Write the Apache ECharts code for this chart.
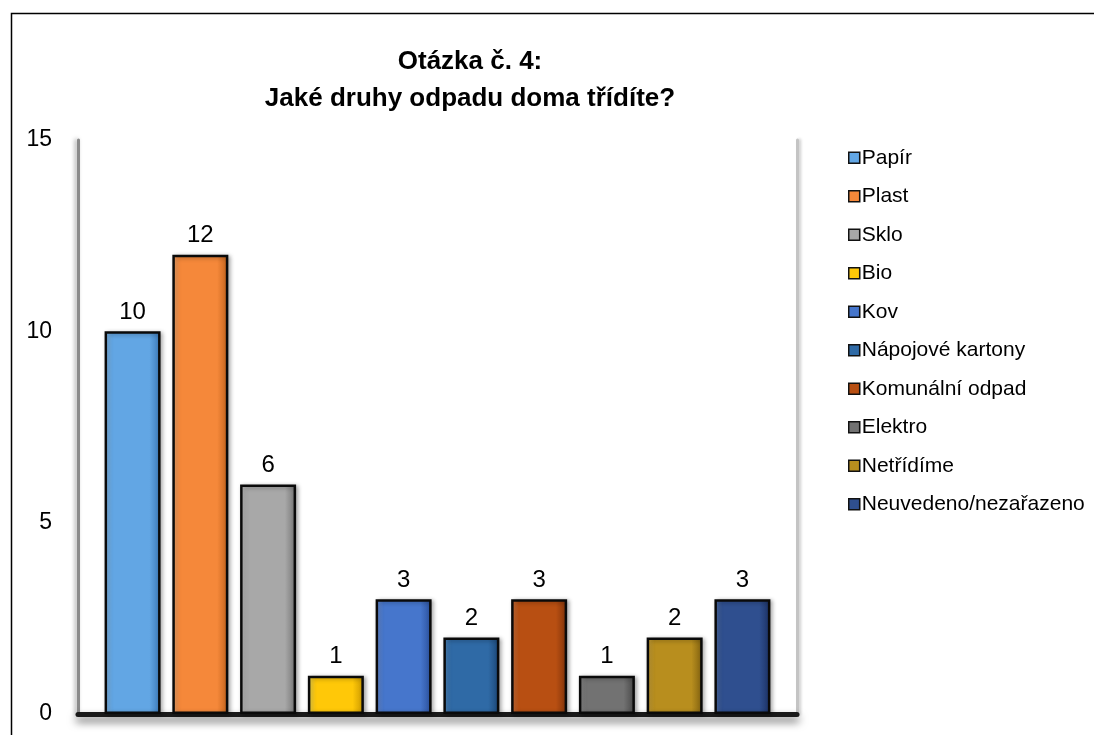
<!DOCTYPE html>
<html><head><meta charset="utf-8">
<script src="https://cdn.jsdelivr.net/npm/echarts@6/dist/echarts.min.js"></script>
<style>html,body{margin:0;padding:0;background:#fff}#c{width:1094px;height:735px}</style>
</head><body><div id="c"></div>
<script>
const titleLines = ['Otázka č. 4:', 'Jaké druhy odpadu doma třídíte?'];
const seriesNames = ['Papír','Plast','Sklo','Bio','Kov','Nápojové kartony','Komunální odpad','Elektro','Netřídíme','Neuvedeno/nezařazeno'];
const seriesValues = [10, 12, 6, 1, 3, 2, 3, 1, 2, 3];
const yTicks = [0, 5, 10, 15];
// [light edge, main, dark edge]
const seriesColors = [
  ['#8cc4f4','#62a6e4','#3a78b8'],
  ['#ffae72','#f5883a','#c0621c'],
  ['#cacaca','#a8a8a8','#747474'],
  ['#ffe454','#ffc808','#c89600'],
  ['#7098e2','#4676cc','#2a4f9a'],
  ['#5490c8','#2f6aa6','#1b4675'],
  ['#dc7a40','#b84f12','#7f320a'],
  ['#949494','#727272','#464646'],
  ['#d8ae40','#b88e1e','#7f6010'],
  ['#5474ae','#2f4f8f','#1b3062']
];
const FONT = "'Liberation Sans', Arial, sans-serif";

function grad(c){
  return new echarts.graphic.LinearGradient(0,0,1,0,[
    {offset:0,color:c[0]},{offset:0.14,color:c[1]},{offset:0.8,color:c[1]},{offset:1,color:c[2]}
  ]);
}

const series = seriesNames.map((n,i)=>({
  name:n, type:'bar', data:[seriesValues[i]],
  barWidth:56, barGap:'21%',
  itemStyle:{color:grad(seriesColors[i]), borderColor:'#0a0a0a', borderWidth:2.5,
    shadowColor:'rgba(0,0,0,0.3)', shadowBlur:4, shadowOffsetX:2, shadowOffsetY:1},
  label:{show:true, position:'top', distance:7, color:'#000', fontSize:24, fontFamily:FONT},
  emphasis:{disabled:true}
}));

const chart = echarts.init(document.getElementById('c'), null, {renderer:'canvas'});
chart.setOption({
  animation:false,
  backgroundColor:'#fff',
  color: seriesColors.map(c=>c[1]),
  title:{
    text: titleLines.join('\n'), left:465, top:38, textAlign:'center',
    textStyle:{fontFamily:FONT, fontSize:26, fontWeight:'bold', color:'#000', lineHeight:37, align:'center'}
  },
  legend:{
    orient:'vertical', left:843, top:142, itemWidth:11, itemHeight:11, itemGap:17,
    icon:'rect',
    itemStyle:{borderColor:'#111', borderWidth:1.5},
    textStyle:{fontFamily:FONT, fontSize:21, lineHeight:21.5, color:'#000', padding:[0,0,0,-3]},
    data: seriesNames
  },
  grid:{left:78, right:297, top:140, bottom:21},
  xAxis:{type:'category', data:[''],
    axisTick:{show:false}, axisLabel:{show:false},
    axisLine:{show:true, lineStyle:{color:'#1a1a1a', width:5, shadowColor:'rgba(0,0,0,0.6)', shadowBlur:9, shadowOffsetY:5}}},
  yAxis:[
    {type:'value', min:yTicks[0], max:yTicks[yTicks.length-1], interval:5,
      splitLine:{show:false}, axisTick:{show:false},
      axisLine:{show:true, lineStyle:{color:'#8a8a8a', width:3, shadowColor:'rgba(0,0,0,0.35)', shadowBlur:4, shadowOffsetX:-2}},
      axisLabel:{fontFamily:FONT, fontSize:23, color:'#000', margin:26}},
    {type:'value', position:'right', min:yTicks[0], max:yTicks[yTicks.length-1], interval:5,
      splitLine:{show:false}, axisTick:{show:false}, axisLabel:{show:false},
      axisLine:{show:true, lineStyle:{color:'#c4c4c4', width:3, shadowColor:'rgba(0,0,0,0.2)', shadowBlur:3, shadowOffsetX:2}}}
  ],
  graphic:[{type:'rect', left:9, top:11, silent:true, z:-1,
    shape:{width:1200, height:800}, style:{fill:null, stroke:'#000', lineWidth:1.5}}],
  series: series
});
</script></body></html>
